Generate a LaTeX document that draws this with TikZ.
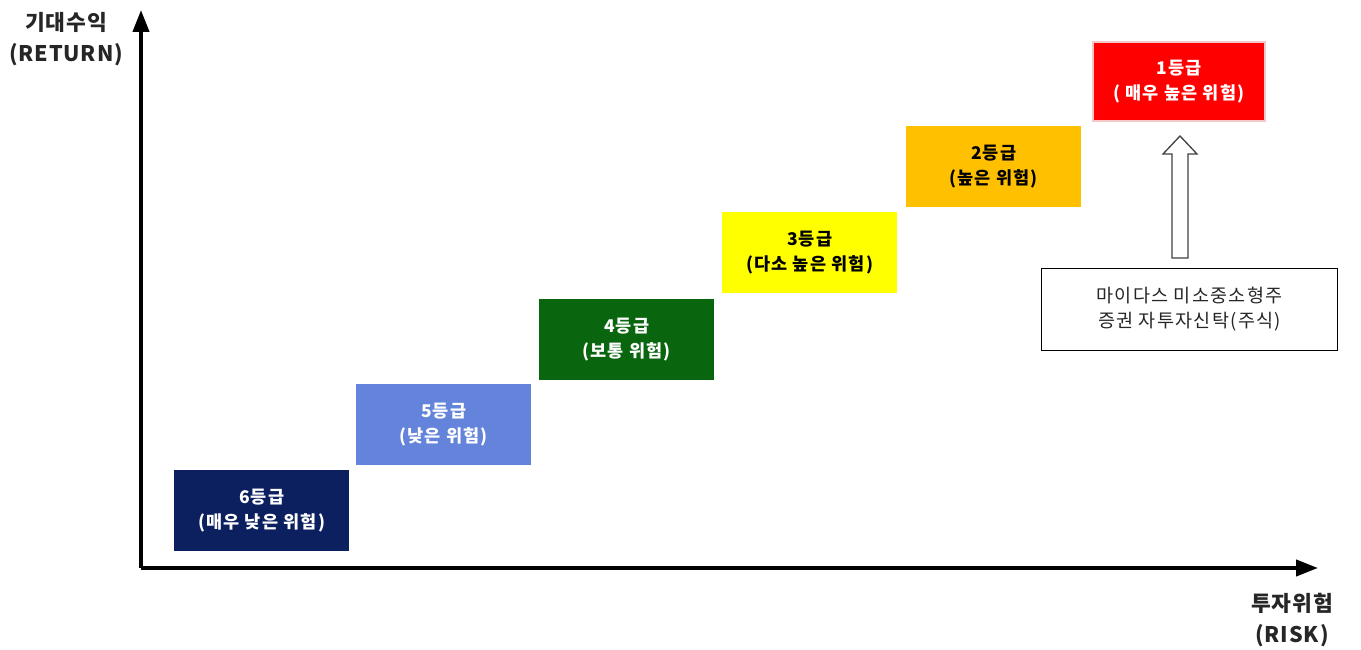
\documentclass[tikz,border=0pt]{standalone}
\usepackage{fontspec}
\setmainfont{Noto Sans CJK KR}
\newfontfamily\krw[LetterSpace=7]{Noto Sans CJK KR}
\newfontfamily\krv[LetterSpace=4]{Noto Sans CJK KR}
\usetikzlibrary{arrows.meta}
\definecolor{g6}{HTML}{0C2060}
\definecolor{g5}{HTML}{6384DA}
\definecolor{g4}{HTML}{0A650F}
\definecolor{g3}{HTML}{FFFF00}
\definecolor{g2}{HTML}{FFC000}
\definecolor{g1}{HTML}{FF0000}
\definecolor{pinkb}{HTML}{F4C8C8}
\begin{document}
\begin{tikzpicture}[x=1pt,y=-1pt,
  grade/.style={minimum width=175pt,minimum height=81pt,anchor=north west,inner sep=0pt,align=center,font=\krw\fontsize{17.5}{25}\selectfont\bfseries},
  axislabel/.style={align=center,font=\krv\fontsize{21.5}{31}\selectfont\bfseries,text=black!85}]
\useasboundingbox (0,0) rectangle (1361,650);
% axes
\coordinate (O) at (141,568);
\coordinate (Ytop) at (141,10);
\coordinate (Xend) at (1318,568);
\draw[line width=4pt,-{Triangle[length=22pt,width=16pt]}] (O) -- (Ytop);
\draw[line width=4pt,-{Triangle[length=22pt,width=16pt]}] (O) -- (Xend);
\node[axislabel] (ylab) at (66,39) {기대수익\\(RETURN)};
\node[axislabel] (xlab) at (1292,620) {투자위험\\(RISK)};
% grade boxes
\node[grade,fill=g6,text=white] (b6) at (174,470) {6등급\\(매우 낮은 위험)};
\node[grade,fill=g5,text=white] (b5) at (356,384) {5등급\\(낮은 위험)};
\node[grade,fill=g4,text=white] (b4) at (539,299) {4등급\\(보통 위험)};
\node[grade,fill=g3,text=black] (b3) at (722,212) {3등급\\(다소 높은 위험)};
\node[grade,fill=g2,text=black] (b2) at (906,126) {2등급\\(높은 위험)};
\node[grade,fill=g1,text=white,draw=pinkb,line width=2pt,minimum width=172pt,minimum height=79pt] (b1) at (1092,41) {1등급\\( 매우 높은 위험)};
% fund box
\node[draw=black,line width=1pt,fill=white,minimum width=296pt,minimum height=82pt,anchor=north west,inner sep=0pt,align=center,font=\krw\fontsize{18.5}{25}\selectfont,text=black!85] (fund) at (1041,268) {마이다스 미소중소형주\\증권 자투자신탁(주식)};
% hollow arrow
\coordinate (aB) at (1180,258);
\coordinate (aT) at (1180,136);
\draw[line width=1.3pt,draw=black!75,fill=white]
  ([xshift=-8pt]aB) -- ([xshift=-8pt,yshift=-18pt]aT) -- ([xshift=-17pt,yshift=-18pt]aT) -- (aT)
  -- ([xshift=17pt,yshift=-18pt]aT) -- ([xshift=8pt,yshift=-18pt]aT) -- ([xshift=8pt]aB) -- cycle;
\end{tikzpicture}
\end{document}
